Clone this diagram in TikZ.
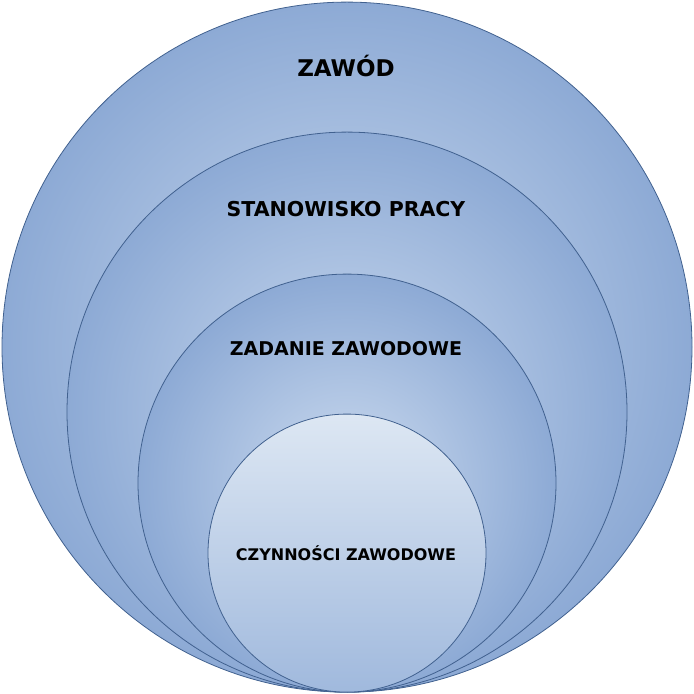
\documentclass[tikz,border=0pt]{standalone}
\usepackage{fontspec}
\setmainfont{DejaVu Sans}
\usetikzlibrary{positioning}
\definecolor{ringedge}{HTML}{8DAAD5}
\definecolor{ringcore}{HTML}{CCDBEF}
\definecolor{ringline}{HTML}{41618F}
\definecolor{coretop}{HTML}{DDE7F3}
\definecolor{corebottom}{HTML}{A0B9DD}
\tikzset{
    ring/.style={
           circle,
           draw=ringline, line width=0.8pt,
           inner sep=0pt,
           inner color=ringcore, outer color=ringedge,
           anchor=south,
           },
}
\tikzset{
    core/.style={
           circle,
           draw=ringline, line width=0.8pt,
           inner sep=0pt,
           top color=coretop, bottom color=corebottom,
           anchor=south,
           },
}
\tikzset{
    caption/.style={
           font=\bfseries,
           anchor=base,
           inner sep=0pt,
           },
}

\begin{document}
\begin{tikzpicture}[x=1pt,y=1pt]
\useasboundingbox (0,0) rectangle (694,694);
\coordinate (base) at (347,1.5);
\node[ring, minimum size=690pt](zawod) at (base){};
\node[ring, minimum size=560pt](stanowisko) at (base){};
\node[ring, minimum size=418pt](zadanie) at (base){};
\node[core, minimum size=278pt](czynnosci) at (base){};
\node[caption, font=\fontsize{23pt}{23pt}\selectfont\bfseries](zawodlbl) at (346,617){ZAWÓD};
\node[caption, font=\fontsize{20.5pt}{20.5pt}\selectfont\bfseries](stanowiskolbl) at (346,477){STANOWISKO PRACY};
\node[caption, font=\fontsize{19pt}{19pt}\selectfont\bfseries](zadanielbl) at (346,338){ZADANIE ZAWODOWE};
\node[caption, font=\fontsize{16pt}{16pt}\selectfont\bfseries](czynnoscilbl) at (346,133){CZYNNOŚCI ZAWODOWE};
\end{tikzpicture}
\end{document}
